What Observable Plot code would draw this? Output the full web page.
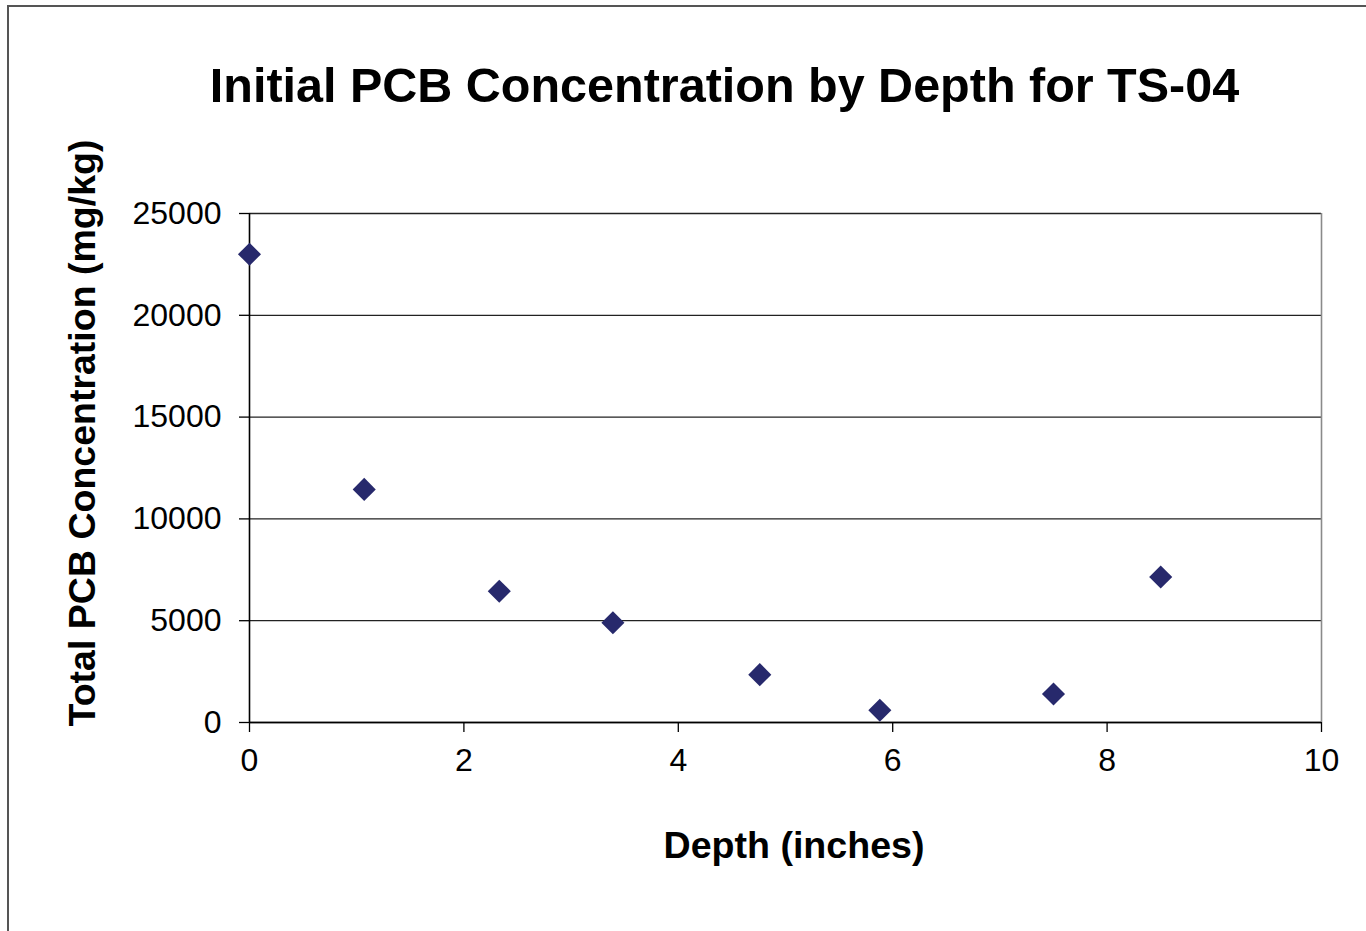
<!DOCTYPE html>
<html>
<head>
<meta charset="utf-8">
<script src="https://cdn.jsdelivr.net/npm/d3@7"></script>
<script src="https://cdn.jsdelivr.net/npm/@observablehq/plot@0.6"></script>
<style>
  html, body { margin: 0; padding: 0; background: #fff; overflow: hidden; }
  #page { position: relative; width: 1366px; height: 931px; }
  #border { position: absolute; left: 7px; top: 5px; width: 1400px; height: 1000px;
            border-left: 2px solid #555; border-top: 2px solid #555; }
  #chart { position: absolute; left: 0; top: 0; }
</style>
</head>
<body>
<div id="page"><div id="border"></div><div id="chart"></div></div>
<script>
// Sample depths (inches) and total PCB concentration (mg/kg) for core TS-04
const depthInches = [0, 1.07, 2.33, 3.39, 4.76, 5.88, 7.5, 8.5];
const pcbMgKg = [23000, 11450, 6450, 4900, 2350, 600, 1400, 7150];

const xTicks = [0, 2, 4, 6, 8, 10];
const yTicks = [0, 5000, 10000, 15000, 20000, 25000];

const titleText = "Initial PCB Concentration by Depth for TS-04";
const xLabel = "Depth (inches)";
const yLabel = "Total PCB Concentration (mg/kg)";

const samples = depthInches.map((d, i) => ({depth: d, pcb: pcbMgKg[i]}));

const chart = Plot.plot({
  width: 1366,
  height: 931,
  marginLeft: 249,
  marginRight: 45,
  marginTop: 213,
  marginBottom: 209,
  style: {
    fontFamily: "'Liberation Sans', Arial, sans-serif",
    fontSize: "32px",
    color: "#000",
    background: "transparent"
  },
  x: {domain: [xTicks[0], xTicks[xTicks.length - 1]]},
  y: {domain: [yTicks[0], yTicks[yTicks.length - 1]]},
  marks: [
    // horizontal gridlines (the top one closes the plot area)
    Plot.gridY(yTicks, {stroke: "#222", strokeOpacity: 1, strokeWidth: 1.3}),
    // right edge of the plot area
    Plot.ruleX([xTicks[xTicks.length - 1]], {stroke: "#8a8a8a", strokeWidth: 1.6}),
    Plot.axisY(yTicks, {
      tickSize: 10, tickPadding: 18, fontSize: 32,
      tickFormat: d3.format("d"), label: null, strokeWidth: 1.3
    }),
    Plot.axisX(xTicks, {
      tickSize: 10, tickPadding: 16, fontSize: 32,
      tickFormat: d3.format("d"), label: null, strokeWidth: 1.3
    }),
    Plot.ruleY([0], {stroke: "#000", strokeWidth: 1.6}),
    Plot.ruleX([0], {stroke: "#000", strokeWidth: 1.6}),
    Plot.dot(samples, {
      x: "depth", y: "pcb", symbol: "diamond2", r: 10.4,
      fill: "#27296c", stroke: "none"
    }),
    // chart title
    Plot.text([titleText], {
      text: d => d, frameAnchor: "top", textAnchor: "middle", lineAnchor: "middle",
      dx: -61, dy: -126.6, fontSize: 48.5, fontWeight: "bold", fill: "#000"
    }),
    // x-axis title
    Plot.text([xLabel], {
      text: d => d, frameAnchor: "bottom", textAnchor: "middle", lineAnchor: "middle",
      dx: 8.5, dy: 123.5, fontSize: 37.6, fontWeight: "bold", fill: "#000"
    }),
    // y-axis title
    Plot.text([yLabel], {
      text: d => d, frameAnchor: "left", textAnchor: "middle", lineAnchor: "middle",
      rotate: -90, dx: -167, dy: -35, fontSize: 37.5, fontWeight: "bold", fill: "#000"
    })
  ]
});

document.getElementById("chart").appendChild(chart);
</script>
</body>
</html>
